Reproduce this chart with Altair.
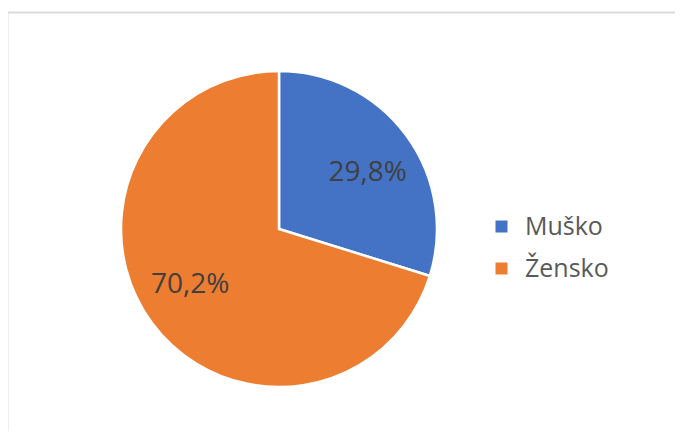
import altair as alt
import pandas as pd

categories = ["Muško", "Žensko"]
values = [29.8, 70.2]
labels = ["29,8%", "70,2%"]
colors = ["#4472C4", "#ED7D31"]

df = pd.DataFrame({"kat": categories, "val": values, "lab": labels, "ord": [0, 1]})

W, H = 667, 423
CX, CY = 271, 221

base = alt.Chart(df).encode(
    theta=alt.Theta("val:Q", stack=True),
    order=alt.Order("ord:Q"),
)

pie = base.mark_arc(radius=158, stroke="white", strokeWidth=2.5).encode(
    x=alt.value(CX), y=alt.value(CY),
    color=alt.Color(
        "kat:N",
        scale=alt.Scale(domain=categories, range=colors),
        sort=categories,
        legend=alt.Legend(
            title=None, orient="none", legendX=481, legendY=206,
            symbolType="square", symbolSize=144, symbolStrokeWidth=0,
            labelFontSize=25, labelFont="Open Sans", labelColor="#595959",
            rowPadding=16, labelOffset=11, padding=0,
        ),
    ),
)

text = base.mark_text(radius=105, thetaOffset=0.07, font="Open Sans", fontSize=28,
                      color="#404040").encode(
    x=alt.value(CX), y=alt.value(CY),
    text="lab:N",
)

frame_top = alt.Chart(df).mark_rule(color="#d9d9d9", strokeWidth=1.5).encode(
    x=alt.value(0), x2=alt.value(W + 20), y=alt.value(4.5)
)
frame_left = alt.Chart(df).mark_rule(color="#d9d9d9", strokeWidth=1.5).encode(
    x=alt.value(-0.5), y=alt.value(4.5), y2=alt.value(H + 20)
)

chart = alt.layer(frame_top, frame_left, pie, text).properties(
    width=W, height=H, padding=0, autosize=alt.AutoSizeParams(type="none"),
    background="white",
).configure_view(stroke=None)

chart.save("out.html", embed_options={"renderer": "svg", "actions": False})
